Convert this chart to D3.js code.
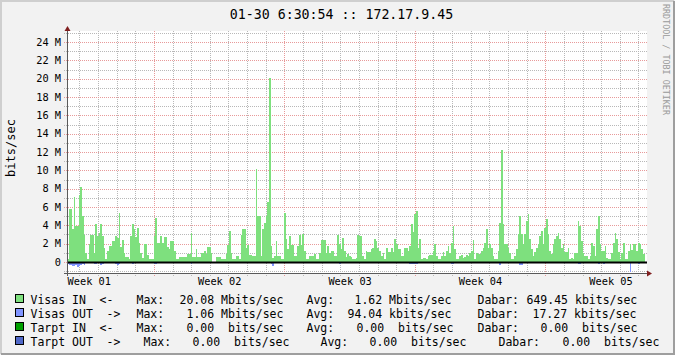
<!DOCTYPE html>
<html>
<head>
<meta charset="utf-8">
<script src="https://cdn.jsdelivr.net/npm/d3@7"></script>
<style>
  body { margin: 0; background: #f2f2f2; }
  text { font-family: "DejaVu Sans Mono", monospace; }
</style>
</head>
<body>
<svg id="chart" width="675" height="355"></svg>
<script>
// Visas traffic, Mbit/s, one sample every 129 minutes
const visasIn = [
  0.36,5.8,5.8,3.6,7.1,3.9,3.9,7.3,8.2,5.0,
  3.0,1.0,0.36,2.0,3.0,3.0,1.0,4.1,2.8,3.2,
  4.1,2.8,1.5,0.36,1.2,1.7,1.7,2.3,2.3,2.8,
  2.6,5.4,1.6,2.4,1.0,0.6,0.6,0.3,2.8,4.1,
  3.6,2.7,3.7,2.1,1.0,0.4,2.0,2.0,0.8,0.36,
  0.36,0.36,2.8,4.8,2.1,2.1,2.8,2.1,2.7,2.7,
  1.6,1.4,2.3,2.3,1.2,0.3,0.3,0.6,0.6,0.55,
  0.55,0.55,0.84,0.84,3.2,0.55,0.55,1.4,0.55,0.55,
  1.0,1.0,1.2,0.84,1.6,1.6,1.0,0,0,0.55,
  0.55,0.55,0.36,0.36,0.36,0.84,1.9,3.4,1.0,0.3,
  0.3,0.65,0.65,0.3,3.0,3.6,3.6,1.56,1.9,0.73,
  0.73,0.65,0.65,10.2,5.0,5.0,0.65,3.6,4.3,5.0,
  6.5,20.08,1.75,0.47,0.65,2.3,0.65,0.65,0.29,0.29,
  5.4,2.5,1.4,2.8,1.9,1.9,0.65,0.65,1.75,3.0,
  1.9,3.1,1.2,0.29,0.29,0.65,0.65,0.65,0.84,0.29,
  0.29,1.0,2.4,2.4,2.4,1.0,1.75,1.0,
  1.2,1.2,0.65,0.65,3.0,1.93,1.38,2.65,1.2,0.55,
  0.84,0.65,0.55,0.29,0.29,0.47,3.0,2.84,2.84,0.65,
  0.29,1.2,1.09,1.09,1.38,1.56,2.47,2.29,1.56,1.2,
  0.65,1.02,0.29,1.56,1.09,1.09,1.56,1.09,2.47,1.93,
  1.38,1.38,0.65,0.65,1.56,1.56,1.2,1.75,4.11,3.27,
  5.27,5.56,1.56,2.47,0.29,0.47,0.47,0.29,0.65,0.73,
  0.73,1.2,1.93,0.65,0.29,0.29,0.65,1.09,0.65,1.2,
  1.75,1.02,2.11,3.93,1.38,0.29,0.29,0.65,0.73,0.47,
  0.58,0.73,0.65,1.02,1.2,2.36,0.29,1.02,0.91,0.91,
  1.2,1.56,2.11,3.56,1.56,1.93,1.56,0.65,0.29,0.29,
  1.2,4.29,12.18,4.11,1.93,1.93,1.56,1.02,0.29,0.29,
  0.65,1.38,3.02,5.02,3.02,1.93,3.02,4.47,5.2,2.47,
  1.38,0.65,1.09,1.56,1.93,2.84,3.38,1.93,3.75,4.73,
  3.02,1.2,0.84,1.93,2.47,2.84,3.13,2.47,1.56,1.93,
  1.09,1.09,1.56,0.29,0.47,0.29,1.02,1.02,4.47,3.93,
  2.29,1.02,0.65,0.65,0.29,0.65,2.11,1.75,0.65,3.56,
  5.02,1.93,1.2,1.2,1.75,0.47,0.29,0.29,1.02,2.11,
  3.13,2.47,1.09,0.29,1.02,2.11,0.29,0.29,1.2,2.0,
  1.31,2.0,1.93,1.2,2.11,1.93,1.45,0.84
];
const visasOut = [
  0.2,0.3,0.35,0.4,0.45,0.35,0.5,0.45,0.3,0.25,
  0.3,0.1,0.1,0.15,0.1,0.1,0.25,0.25,0.1,0.15,
  0.3,0.2,0.1,0.05,0.05,0.1,0.1,0.15,0.1,0.2,
  0.3,0.2,0.1,0.1,0.05,0.05,0.05,0.05,0.15,0.2,
  0.15,0.15,0.1,0.15,0.1,0.05,0.1,0.1,0.05,0.05,
  0.05,0.05,0.2,0.2,0.15,0.1,0.15,0.1,0.15,0.05,
  0.05,0.1,0.15,0.05,0.05,0.05,0.05,0.05,0.05,0.05,
  0.05,0.05,0.05,0.05,0.25,0.05,0.05,0.05,0.05,0.05,
  0.05,0.05,0.05,0.05,0.05,0.05,0.05,0.05,0.05,0.05,
  0.05,0.05,0.05,0.05,0.05,0.05,0.1,0.05,0.05,0.05,
  0.05,0.05,0.05,0.05,0.05,0.05,0.05,0.1,0.05,0.05,
  0.05,0.05,0.05,0.1,0.15,0.15,0.15,0.15,0.1,0.1,
  0.05,0.05,0.2,0.45,0.05,0.05,0.05,0.05,0.05,0.05,
  0.05,0.15,0.1,0.05,0.05,0.1,0.05,0.05,0.05,0.05,
  0.1,0.05,0.05,0.05,0.15,0.1,0.1,0.05,0.05,0.05,
  0.05,0.05,0.1,0.15,0.15,0.1,0.05,0.05,
  0.1,0.1,0.05,0.05,0.15,0.2,0.05,0.05,0.05,0.05,
  0.05,0.05,0.05,0.05,0.05,0.05,0.1,0.1,0.1,0.05,
  0.05,0.05,0.05,0.1,0.1,0.1,0.1,0.1,0.1,0.05,
  0.05,0.05,0.05,0.05,0.05,0.1,0.1,0.1,0.05,0.05,
  0.05,0.05,0.05,0.05,0.05,0.05,0.15,0.2,0.2,0.25,
  0.2,0.2,0.05,0.05,0.05,0.05,0.05,0.05,0.05,0.05,
  0.05,0.15,0.15,0.05,0.05,0.05,0.05,0.05,0.05,0.05,
  0.05,0.05,0.2,0.2,0.05,0.05,0.05,0.05,0.05,0.05,
  0.05,0.05,0.05,0.05,0.05,0.1,0.1,0.05,0.05,0.05,
  0.1,0.15,0.1,0.1,0.05,0.05,0.05,0.05,0.05,0.05,
  0.05,0.3,0.1,0.05,0.15,0.05,0.05,0.05,0.05,0.05,
  0.05,0.05,0.1,0.35,0.35,0.1,0.15,0.15,0.15,0.1,
  0.05,0.05,0.1,0.15,0.1,0.1,0.15,0.15,0.1,0.15,
  0.15,0.05,0.05,0.05,0.05,0.05,0.05,0.05,0.05,0.05,
  0.05,0.05,0.05,0.05,0.05,0.05,0.05,0.1,0.2,0.2,
  0.15,0.05,0.05,0.05,0.05,0.05,0.05,0.05,0.05,0.05,
  0.25,0.1,0.05,0.25,0.05,0.05,0.05,0.05,0.05,0.05,
  0.1,0.05,0.05,0.05,0.05,0.05,0.05,0.05,0.05,1.06,
  0.1,0.1,0.1,0.05,0.2,0.1,0.05,0.05
];
const yTicks = [0, 2, 4, 6, 8, 10, 12, 14, 16, 18, 20, 22, 24];

const title = "01-30 6:30:54 :: 172.17.9.45";
const legendNames  = ["Visas IN", "Visas OUT", "Tarpt IN", "Tarpt OUT"];
const legendArrows = ["<-", "->", "<-", "->"];
const legendMax = ["20.08 Mbits/sec", "1.06 Mbits/sec", "0.00  bits/sec", "0.00  bits/sec"];
const legendAvg = ["1.62 Mbits/sec", "94.04 kbits/sec", "0.00  bits/sec", "0.00  bits/sec"];
const legendCur = ["649.45 kbits/sec", "17.27 kbits/sec", "0.00  bits/sec", "0.00  bits/sec"];
const colors = ["#7ee07e", "#8094ff", "#00a000", "#5068c8"];

const stepMin = 129;
const start = new Date(Date.UTC(2013, 0, 2, 8));
const end = new Date(Date.UTC(2013, 1, 2, 11));

const svg = d3.select("#chart");

// frame
svg.append("rect").attr("width", 675).attr("height", 355).attr("fill", "#f2f2f2");
svg.append("path").attr("d", "M1,354V1H674").attr("fill", "none").attr("stroke", "#cfcfcf").attr("stroke-width", 2);
svg.append("path").attr("d", "M1,354H674V1").attr("fill", "none").attr("stroke", "#9e9e9e").attr("stroke-width", 2);

const x = d3.scaleUtc().domain([start, end]).range([67, 647]);
const y = d3.scaleLinear().domain([-1.2, 25.2]).range([273, 31]);

// canvas
svg.append("rect")
  .attr("x", 67).attr("y", 31)
  .attr("width", 580).attr("height", 242)
  .attr("fill", "#fff");

const px = v => Math.round(v) + 0.5;

// grid: minor days / 1M, major weeks / 2M
const grid = svg.append("g").attr("stroke-dasharray", "1,1").attr("fill", "none");
const days = d3.utcDay.range(start, end).filter(d => d.getUTCDay() !== 1);
grid.selectAll(".vmin").data(days).join("line")
  .attr("x1", d => px(x(d))).attr("x2", d => px(x(d)))
  .attr("y1", 31).attr("y2", 276)
  .attr("stroke", "#b8b8b8");
const hMinor = d3.range(-1, 26).filter(v => v % 2 !== 0);
grid.selectAll(".hmin").data(hMinor).join("line")
  .attr("x1", 64).attr("x2", 647)
  .attr("y1", d => px(y(d))).attr("y2", d => px(y(d)))
  .attr("stroke", "#b8b8b8");
const mondays = d3.utcMonday.range(start, end);
grid.selectAll(".vmaj").data(mondays).join("line")
  .attr("x1", d => px(x(d))).attr("x2", d => px(x(d)))
  .attr("y1", 31).attr("y2", 276)
  .attr("stroke", "#e89a9a");
grid.selectAll(".hmaj").data(yTicks).join("line")
  .attr("x1", 64).attr("x2", 647)
  .attr("y1", d => px(y(d))).attr("y2", d => px(y(d)))
  .attr("stroke", "#e89a9a");

// series
const toPoints = arr => {
  const pts = arr.map((v, i) => ({t: d3.utcMinute.offset(start, i * stepMin), v}));
  pts.push({t: d3.utcMinute.offset(start, arr.length * stepMin), v: arr[arr.length - 1]});
  return pts;
};
const areaIn = d3.area().curve(d3.curveStepAfter)
  .x(d => x(d.t)).y0(y(0)).y1(d => y(d.v));
const areaOut = d3.area().curve(d3.curveStepAfter)
  .x(d => x(d.t)).y0(y(0)).y1(d => y(-d.v));

svg.append("path").datum(toPoints(visasIn))
  .attr("d", areaIn).attr("fill", colors[0]).attr("shape-rendering", "crispEdges");
svg.append("path").datum(toPoints(visasOut))
  .attr("d", areaOut).attr("fill", colors[1]).attr("shape-rendering", "crispEdges");

// zero rule
svg.append("line")
  .attr("x1", 67).attr("x2", 647)
  .attr("y1", y(0) + 0.5).attr("y2", y(0) + 0.5)
  .attr("stroke", "#000").attr("stroke-width", 2);

// axes lines + arrows
svg.append("line").attr("x1", 67.5).attr("x2", 67.5).attr("y1", 276).attr("y2", 30)
  .attr("stroke", "#5a5a5a");
svg.append("line").attr("x1", 64).attr("x2", 649).attr("y1", 273.5).attr("y2", 273.5)
  .attr("stroke", "#5a5a5a");
svg.append("path").attr("d", "M64.5,31L70.5,31L67.5,26Z").attr("fill", "#801f1f");
svg.append("path").attr("d", "M647,270.5L647,276.5L652,273.5Z").attr("fill", "#801f1f");

// y axis labels
const yAxis = svg.append("g")
  .attr("transform", "translate(67,0)")
  .call(d3.axisLeft(y).tickValues(yTicks).tickSize(0).tickPadding(6)
    .tickFormat(d => d === 0 ? "0" : d + " M"));
yAxis.select(".domain").remove();
yAxis.selectAll("text").style("font-family", "DejaVu Sans Mono").style("font-size", "10.3px").attr("fill", "#000");

// x axis labels, centred in each week
const weekMids = d3.utcMonday.range(d3.utcMonday.floor(start), end).map(d => d3.utcHour.offset(d, 84));
const xAxis = svg.append("g")
  .attr("transform", "translate(0,273)")
  .call(d3.axisBottom(x).tickValues(weekMids).tickSize(0).tickPadding(5)
    .tickFormat(d3.utcFormat("Week %V")));
xAxis.select(".domain").remove();
xAxis.selectAll("text").style("font-family", "DejaVu Sans Mono").style("font-size", "10.3px").attr("fill", "#000");

// title
svg.append("text")
  .attr("x", 341.5).attr("y", 18.5)
  .attr("text-anchor", "middle")
  .style("font-size", "13.25px")
  .text(title);

// y label
svg.append("text")
  .attr("transform", "translate(15,148) rotate(-90)")
  .attr("text-anchor", "middle")
  .style("font-size", "12px")
  .text("bits/sec");

// watermark
svg.append("text")
  .attr("transform", "translate(662.5,4) rotate(90)")
  .attr("fill", "#9a9a9a")
  .style("font-size", "8.4px")
  .text("RRDTOOL / TOBI OETIKER");

// legend
const cols = [
  [31, 100, 137, 180, 307, 355, 478, 527],
  [31, 107, 137, 187, 307, 348, 478, 533],
  [31, 100, 137, 187, 307, 357, 478, 541],
  [31, 107, 144, 193, 321, 370, 499, 563]
];
legendNames.forEach((name, i) => {
  const base = 303.5 + i * 14;
  svg.append("rect")
    .attr("x", 15.5).attr("y", base - 9)
    .attr("width", 8).attr("height", 8)
    .attr("fill", colors[i]).attr("stroke", "#000");
  const parts = [name, legendArrows[i], "Max:", legendMax[i], "Avg:", legendAvg[i], "Dabar:", legendCur[i]];
  parts.forEach((p, j) => {
    svg.append("text")
      .attr("x", cols[i][j] - 0.5).attr("y", base)
      .attr("xml:space", "preserve")
      .style("white-space", "pre")
      .style("font-size", "11.5px")
      .text(p);
  });
});
</script>
</body>
</html>
